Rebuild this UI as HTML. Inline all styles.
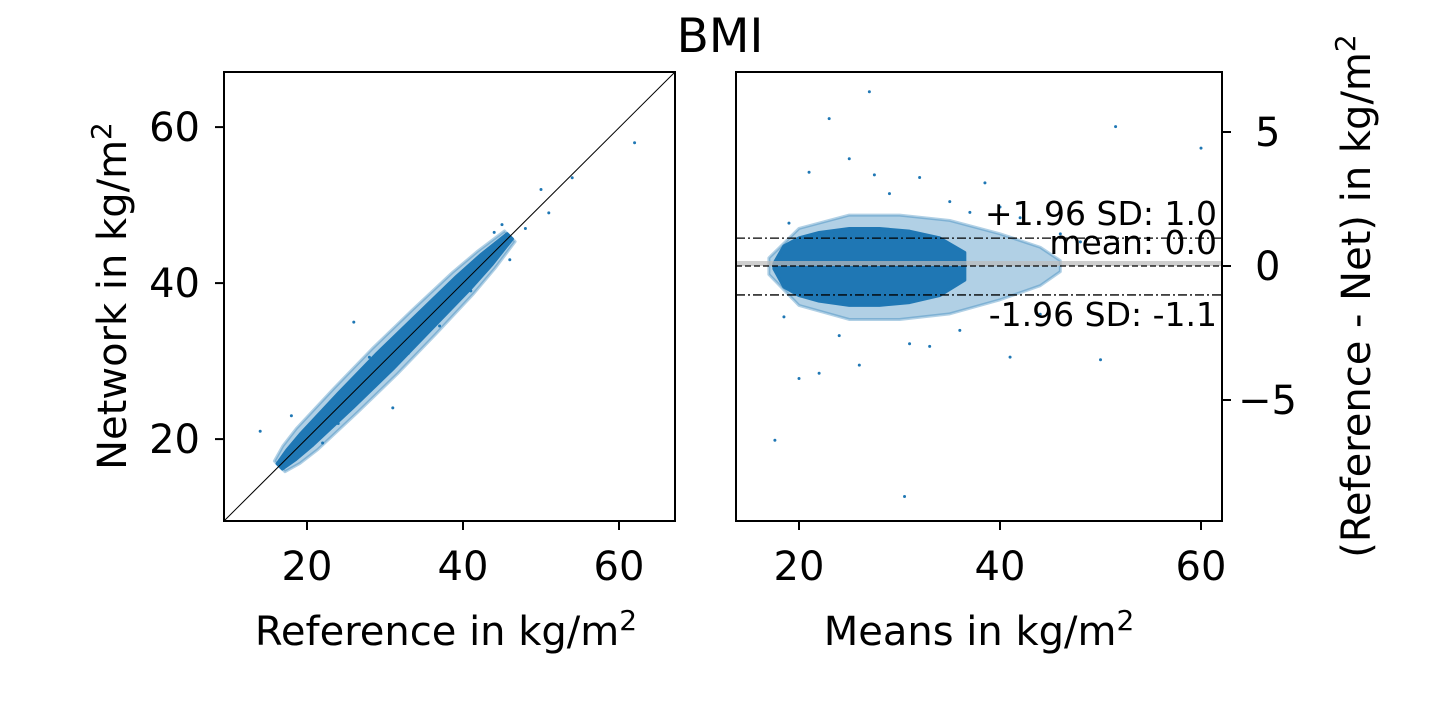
<!DOCTYPE html>
<html><head><meta charset="utf-8"><style>
html,body{margin:0;padding:0;background:#fff;}
svg{display:block;font-family:"DejaVu Sans","Liberation Sans",sans-serif;}
</style></head><body>
<svg id="c" width="1440" height="720" viewBox="0 0 1440 720">
<text x="720" y="52" font-size="47" text-anchor="middle">BMI</text>
<g id="L"></g>
<g id="R"></g>
</svg>
<script>
// Left panel data
const leftBandRef = [16.5, 18, 20, 25, 30, 35, 40, 43, 46];
const leftBandHalf = [0.4, 0.7, 0.9, 1.1, 1.2, 1.1, 1.0, 0.8, 0.4];
const leftFringeHalf = [0.8, 1.3, 1.6, 1.8, 1.9, 1.8, 1.6, 1.3, 0.8];
const leftOutRef = [14, 26, 31, 62, 54, 51, 50, 46, 18, 48, 44, 22, 37, 41, 28, 24, 33, 45, 20];
const leftOutNet = [21, 35, 24, 58, 53.5, 49, 52, 43, 23, 47, 46.5, 19.5, 34.5, 39, 30.5, 22, 31, 47.5, 21.5];
const leftTicks = [20, 40, 60];
// Right panel data
const rightCloudX = [17.5, 18.5, 20, 22, 25, 28, 31, 34, 36.5];
const rightCloudHalf = [0.1, 0.75, 1.05, 1.25, 1.4, 1.4, 1.3, 1.05, 0.5];
const rightFringeX = [17, 20, 25, 30, 35, 40, 44, 46];
const rightFringeHalf = [0.3, 1.4, 1.9, 1.9, 1.7, 1.2, 0.7, 0.2];
const rightOutX = [27, 51.5, 60, 30.5, 17.6, 50, 41, 23, 35, 38.5, 42, 46, 22, 26, 20, 21, 32, 29, 24, 44, 19, 36, 48, 33, 25, 40, 18.5, 31, 27.5, 37];
const rightOutY = [6.5, 5.2, 4.4, -8.6, -6.5, -3.5, -3.4, 5.5, 2.4, 3.1, 1.8, 1.2, -4, -3.7, -4.2, 3.5, 3.3, 2.7, -2.6, -1.8, 1.6, -2.4, 0.9, -3.0, 4.0, 2.2, -1.9, -2.9, 3.4, 2.0];
const rightXTicks = [20, 40, 60];
const rightYTicks = [5, 0, -5];
const limitsUpper = 1.04, limitsMean = 0.0, limitsLower = -1.08;

const NS = "http://www.w3.org/2000/svg";
const C = "#1f77b4";
const FS = 40;
function mk(p, tag, at, txt){const e=document.createElementNS(NS,tag);for(const k in at)e.setAttribute(k,at[k]);if(txt!==undefined)e.textContent=txt;p.appendChild(e);return e;}

// Left axes
const gL = document.getElementById('L');
const lx = v => 224 + (v - 9.36) * 7.8;
const ly = v => 521 - (v - 9.5) * 7.8;
function lband(hs, op){
 const t=[], b=[];
 leftBandRef.forEach((r,i)=>{t.push(lx(r-hs[i]*0.85)+","+ly(r+hs[i]*0.85));b.push(lx(r+hs[i]*0.85)+","+ly(r-hs[i]*0.85));});
 return mk(gL,'polygon',{points:t.concat(b.reverse()).join(' '),fill:C,'fill-opacity':op,stroke:C,'stroke-opacity':op,'stroke-width':3,'stroke-linejoin':'round'});
}
const lf = lband(leftFringeHalf, 0.35);


const band = lband(leftBandHalf, 1);


leftOutRef.forEach((r,i)=>{const c=mk(gL,'circle',{cx:lx(r),cy:ly(leftOutNet[i]),r:1.5,fill:C});

});
const idl = mk(gL,'line',{x1:224,y1:521,x2:675,y2:72,stroke:'#000','stroke-width':1});


mk(gL,'rect',{x:224,y:72,width:451,height:449,fill:'none',stroke:'#000','stroke-width':2});
leftTicks.forEach(t=>{
 mk(gL,'line',{x1:lx(t),y1:521,x2:lx(t),y2:530,stroke:'#000','stroke-width':2});
 const a=mk(gL,'text',{x:lx(t),y:580,'font-size':FS,'text-anchor':'middle'},t);
 
 
 mk(gL,'line',{x1:215,y1:ly(t),x2:224,y2:ly(t),stroke:'#000','stroke-width':2});
 const b=mk(gL,'text',{x:200,y:ly(t)+14,'font-size':FS,'text-anchor':'end'},t);
 
 
});
const xl=mk(gL,'text',{x:446,y:645,'font-size':FS,'text-anchor':'middle'});
xl.innerHTML='Reference in kg/m<tspan dy="-15" font-size="28">2</tspan>';


const yl=mk(gL,'text',{x:0,y:0,'font-size':FS,'text-anchor':'middle',transform:'translate(126,296) rotate(-90)'});
yl.innerHTML='Network in kg/m<tspan dy="-15" font-size="28">2</tspan>';



// Right axes
const gR = document.getElementById('R');
const rx = v => 736 + (v - 13.73) * 10.05;
const ry = v => 266 - v * 26.8;
function blob(xs, hs, op){
 const t=[], b=[];
 xs.forEach((x,i)=>{t.push(rx(x)+","+ry(hs[i]));b.push(rx(x)+","+ry(-hs[i]*1.05));});
 return mk(gR,'polygon',{points:t.concat(b.reverse()).join(' '),fill:C,'fill-opacity':op,stroke:C,'stroke-opacity':op,'stroke-width':3,'stroke-linejoin':'round'});
}
const fr=blob(rightFringeX, rightFringeHalf, 0.35);


const cl=blob(rightCloudX, rightCloudHalf, 1);


rightOutX.forEach((x,i)=>{const c=mk(gR,'circle',{cx:rx(x),cy:ry(rightOutY[i]),r:1.5,fill:C});

});
const gb=mk(gR,'rect',{x:736,y:ry(limitsMean)-5,width:486,height:5,fill:'#bbb',opacity:0.7});


[[limitsUpper,'9 3 2 3','upper-limit-line'],[limitsMean,'6 3','mean-line'],[limitsLower,'9 3 2 3','lower-limit-line']].forEach(d=>{
 const l=mk(gR,'line',{x1:736,x2:1222,y1:ry(d[0]),y2:ry(d[0]),stroke:'#000','stroke-width':1.3,'stroke-dasharray':d[1]});
 
 
});
[['+1.96 SD: '+limitsUpper.toFixed(1),ry(limitsUpper)-13,'upper-limit-label'],['mean: '+limitsMean.toFixed(1),ry(limitsMean)-12,'mean-label'],['-1.96 SD: '+limitsLower.toFixed(1),ry(limitsLower)+31,'lower-limit-label']].forEach(d=>{
 const t=mk(gR,'text',{x:1217,y:d[1],'font-size':33,'text-anchor':'end'},d[0]);
 
 
});
mk(gR,'rect',{x:736,y:72,width:486,height:449,fill:'none',stroke:'#000','stroke-width':2});
rightXTicks.forEach(t=>{
 mk(gR,'line',{x1:rx(t),y1:521,x2:rx(t),y2:530,stroke:'#000','stroke-width':2});
 const a=mk(gR,'text',{x:rx(t),y:580,'font-size':FS,'text-anchor':'middle'},t);
 
 
});
rightYTicks.forEach(t=>{
 mk(gR,'line',{x1:1222,y1:ry(t),x2:1231,y2:ry(t),stroke:'#000','stroke-width':2});
 const b=mk(gR,'text',{x:t<0?1238:1255,y:ry(t)+14,'font-size':FS},t<0?'\u2212'+Math.abs(t):t);
 
 
});
const xr=mk(gR,'text',{x:979,y:645,'font-size':FS,'text-anchor':'middle'});
xr.innerHTML='Means in kg/m<tspan dy="-15" font-size="28">2</tspan>';


const yr=mk(gR,'text',{x:0,y:0,'font-size':FS,'text-anchor':'middle',transform:'translate(1370,296) rotate(-90)'});
yr.innerHTML='(Reference - Net) in kg/m<tspan dy="-15" font-size="28">2</tspan>';


</script>
</body></html>
